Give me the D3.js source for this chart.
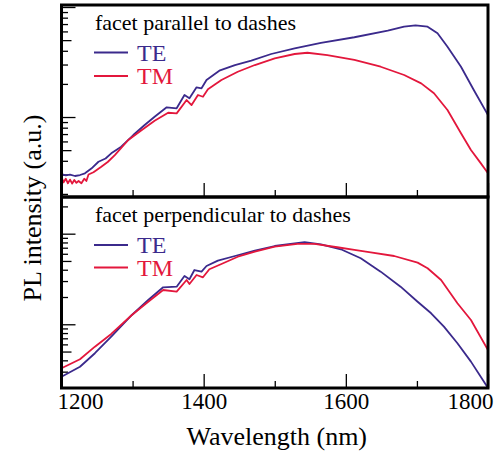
<!DOCTYPE html>
<html>
<head>
<meta charset="utf-8">
<script src="https://cdn.jsdelivr.net/npm/d3@7"></script>
<style>
  html, body { margin: 0; padding: 0; background: #fff; }
  svg { display: block; }
  text { font-family: "Liberation Serif", "DejaVu Serif", serif; }
</style>
</head>
<body>
<svg id="chart" width="500" height="455"></svg>
<script>
// ---------- data ----------
const xTicks = [1200, 1300, 1400, 1500, 1600, 1700, 1800];
const xTickLabels = ["1200", "", "1400", "", "1600", "", "1800"];
const seriesNames = ["TE", "TM"];
const panelTitles = ["facet parallel to dashes", "facet perpendicular to dashes"];

// Panel 1: facet parallel to dashes
const p1TE_wl = [1200, 1206, 1212, 1219, 1226, 1233, 1242, 1252, 1262, 1270, 1284, 1301, 1317, 1331, 1348, 1362, 1373, 1380, 1390, 1397, 1404, 1422, 1444, 1467, 1495, 1528, 1565, 1612, 1659, 1682, 1698, 1715, 1729, 1743, 1762, 1780, 1800];
const p1TE_val = [0.303, 0.295, 0.300, 0.291, 0.297, 0.308, 0.340, 0.392, 0.420, 0.468, 0.537, 0.686, 0.846, 1.006, 1.225, 1.200, 1.585, 1.479, 1.862, 1.824, 2.169, 2.636, 2.969, 3.25, 3.74, 4.21, 4.73, 5.31, 6.09, 6.62, 6.82, 6.62, 5.77, 4.35, 2.865, 1.759, 1.043];

const p1TM_wl = [1200, 1203, 1206, 1209, 1212, 1215, 1218, 1221, 1224, 1228, 1232, 1235, 1238, 1245, 1256, 1265, 1275, 1294, 1313, 1331, 1350, 1362, 1376, 1383, 1392, 1399, 1406, 1425, 1448, 1472, 1500, 1528, 1546, 1574, 1612, 1649, 1682, 1706, 1724, 1743, 1762, 1776, 1790, 1800];
const p1TM_val = [0.285, 0.255, 0.275, 0.250, 0.270, 0.248, 0.268, 0.252, 0.262, 0.250, 0.275, 0.262, 0.300, 0.315, 0.353, 0.390, 0.451, 0.618, 0.762, 0.926, 1.094, 1.080, 1.427, 1.285, 1.585, 1.529, 1.786, 2.169, 2.581, 2.969, 3.42, 3.74, 3.84, 3.66, 3.30, 2.865, 2.41, 2.024, 1.643, 1.158, 0.711, 0.501, 0.379, 0.308];

// Panel 2: facet perpendicular to dashes
const p2TE_wl = [1200, 1226, 1247, 1270, 1299, 1322, 1343, 1362, 1373, 1380, 1387, 1397, 1404, 1420, 1444, 1472, 1500, 1528, 1542, 1565, 1593, 1621, 1649, 1677, 1701, 1720, 1738, 1757, 1776, 1800];
const p2TE_val = [0.264, 0.340, 0.479, 0.730, 1.267, 1.854, 2.56, 2.60, 3.41, 3.14, 3.97, 3.81, 4.40, 5.04, 5.67, 6.49, 7.31, 7.83, 8.04, 7.64, 6.73, 5.35, 3.81, 2.60, 1.775, 1.323, 0.941, 0.617, 0.387, 0.198];

const p2TM_wl = [1200, 1226, 1247, 1270, 1299, 1322, 1343, 1362, 1376, 1380, 1390, 1399, 1408, 1425, 1448, 1472, 1500, 1532, 1556, 1588, 1612, 1635, 1668, 1701, 1715, 1734, 1757, 1776, 1800];
const p2TM_val = [0.327, 0.411, 0.566, 0.782, 1.267, 1.775, 2.39, 2.29, 3.08, 2.786, 3.50, 3.30, 4.05, 4.63, 5.57, 6.33, 7.19, 7.70, 7.70, 7.08, 6.61, 6.23, 5.67, 4.79, 4.15, 3.08, 1.705, 1.115, 0.520];

// ---------- layout ----------
const colors = { TE: "#3b2a8c", TM: "#e3173c" };
const left = 61.5, right = 488;
const panels = [
  { top: 5, bottom: 197, domain: [0.1875, 10.43], title: panelTitles[0],
    series: [{ name: "TE", wl: p1TE_wl, v: p1TE_val }, { name: "TM", wl: p1TM_wl, v: p1TM_val }],
    titleY: 29.5, legY: [52.5, 76], labels: false },
  { top: 197, bottom: 388, domain: [0.198, 25.4], title: panelTitles[1],
    series: [{ name: "TE", wl: p2TE_wl, v: p2TE_val }, { name: "TM", wl: p2TM_wl, v: p2TM_val }],
    titleY: 221.5, legY: [245, 267.5], labels: true }
];

const svg = d3.select("#chart");
const x = d3.scaleLinear().domain([1200, 1800]).range([left, right]);

svg.append("defs").selectAll("clipPath").data(panels).join("clipPath")
  .attr("id", (d, i) => "clip" + i)
  .append("rect")
  .attr("x", left).attr("y", d => d.top)
  .attr("width", right - left).attr("height", d => d.bottom - d.top);

panels.forEach((p, i) => {
  const y = d3.scaleLog().domain(p.domain).range([p.bottom, p.top]);
  const g = svg.append("g");

  // y ticks (inward)
  const yt = y.ticks();
  const yAxis = g.append("g").attr("transform", `translate(${left},0)`)
    .call(d3.axisLeft(y).tickValues(yt).tickFormat("").tickSize(-6).tickSizeOuter(0));
  yAxis.select(".domain").remove();
  yAxis.selectAll(".tick line")
    .attr("x2", d => {
      const m = d / Math.pow(10, Math.floor(Math.log10(d) + 1e-9));
      return Math.abs(m - 1) < 1e-6 ? 14 : (Math.abs(m - 5) < 1e-6 ? 10 : 6.5);
    })
    .attr("stroke", "#000").attr("stroke-width", 1.3);

  // x ticks (inward, from bottom)
  const xAxis = g.append("g").attr("transform", `translate(0,${p.bottom})`)
    .call(d3.axisBottom(x).tickValues(xTicks)
      .tickFormat((d, k) => p.labels ? xTickLabels[k] : "")
      .tickSize(-7).tickSizeOuter(0).tickPadding(20));
  xAxis.select(".domain").remove();
  xAxis.selectAll(".tick line")
    .attr("y2", (d, k) => xTickLabels[k] ? -14 : -7)
    .attr("stroke", "#000").attr("stroke-width", 1.3);
  xAxis.selectAll(".tick text")
    .attr("font-size", 23).attr("fill", "#000")
    .attr("font-family", "Liberation Serif, serif")
    .attr("dy", 0).attr("y", 21)
    .attr("text-anchor", (d, k) => k === 0 ? "start" : (k === xTicks.length - 1 ? "end" : "middle"))
    .attr("dx", (d, k) => k === 0 ? -4.5 : (k === xTicks.length - 1 ? 5 : 0));

  // curves
  const line = d3.line().x(d => x(d[0])).y(d => y(d[1]));
  const cg = g.append("g").attr("clip-path", `url(#clip${i})`);
  p.series.forEach(s => {
    cg.append("path")
      .attr("d", line(s.wl.map((w, k) => [w, s.v[k]])))
      .attr("fill", "none").attr("stroke", colors[s.name])
      .attr("stroke-width", 1.8).attr("stroke-linejoin", "round");
  });

  // title
  g.append("text").attr("x", 95).attr("y", p.titleY)
    .attr("font-size", 22).attr("fill", "#000").text(p.title);

  // legend
  seriesNames.forEach((n, k) => {
    g.append("line").attr("x1", 94).attr("x2", 128)
      .attr("y1", p.legY[k]).attr("y2", p.legY[k])
      .attr("stroke", colors[n]).attr("stroke-width", 1.8);
    g.append("text").attr("x", 137).attr("y", p.legY[k] + 8)
      .attr("font-size", 24).attr("fill", colors[n]).text(n);
  });

  // frame
  g.append("rect").attr("x", left).attr("y", p.top)
    .attr("width", right - left).attr("height", p.bottom - p.top)
    .attr("fill", "none").attr("stroke", "#000").attr("stroke-width", 3);
});

// axis titles
svg.append("text").attr("x", (left + right) / 2 + 2).attr("y", 445)
  .attr("text-anchor", "middle").attr("font-size", 26).text("Wavelength (nm)");
svg.append("text").attr("transform", "translate(41,208) rotate(-90)")
  .attr("text-anchor", "middle").attr("font-size", 26).text("PL intensity (a.u.)");
</script>
</body>
</html>
